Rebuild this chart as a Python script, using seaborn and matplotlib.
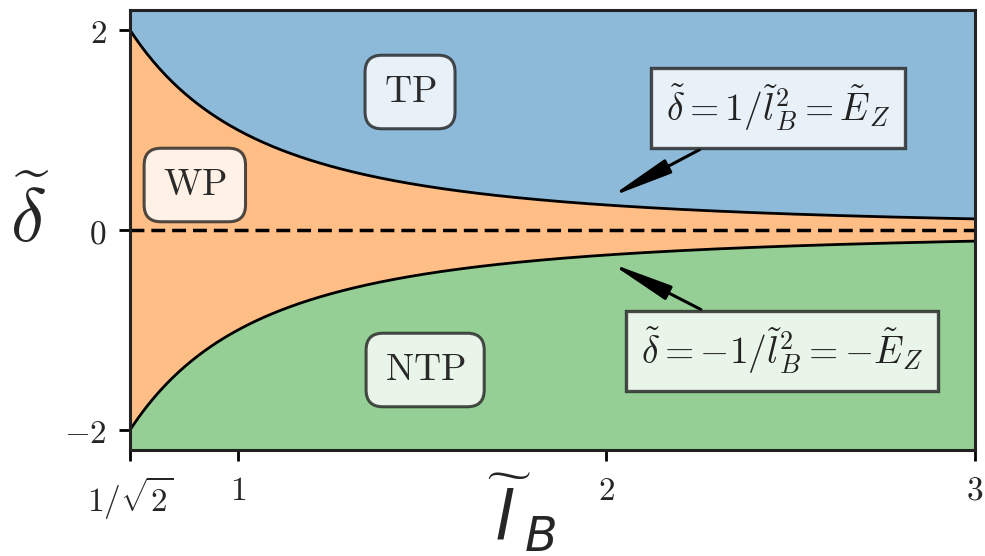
import numpy as np
import pandas as pd
import matplotlib
matplotlib.use("Agg")
import matplotlib.pyplot as plt
import seaborn as sns

# Phase boundaries: delta = +/- 1 / l_B^2 (= +/- E_Z)
l_min, l_max = 1 / np.sqrt(2), 3.0
l_B = np.linspace(l_min, l_max, 400)
delta_upper = 1 / l_B**2
delta_lower = -1 / l_B**2
delta_top, delta_bottom = 2.2, -2.2

x_ticks = [1 / np.sqrt(2), 1, 2, 3]
x_tick_labels = [r"$1/\sqrt{2}$", r"$1$", r"$2$", r"$3$"]
y_ticks = [-2, 0, 2]
y_tick_labels = [r"$-2$", r"$0$", r"$2$"]

region_labels = ["TP", "WP", "NTP"]
region_pos = [(1.467, 1.38), (0.883, 0.45), (1.508, -1.40)]

eq_upper = r"$\tilde{\delta} = 1/\tilde{l}_B^2 = \tilde{E}_Z$"
eq_lower = r"$\tilde{\delta} = -1/\tilde{l}_B^2 = -\tilde{E}_Z$"
eq_upper_pos, eq_lower_pos = (2.466, 1.22), (2.476, -1.21)
boundary_point = 2.01

sns.set_theme(style="white")
plt.rcParams["mathtext.fontset"] = "cm"

df = pd.DataFrame({"l_B": l_B, "upper": delta_upper, "lower": delta_lower})

fig = plt.figure(figsize=(9.85, 5.56), dpi=100)
ax = fig.add_axes([130 / 985, 1 - 450 / 556, 845 / 985, 440 / 556])

blue, orange, green = sns.color_palette("tab10")[:3]
ax.fill_between(df["l_B"], df["upper"], delta_top, color=blue, alpha=0.5, lw=0)
ax.fill_between(df["l_B"], df["lower"], df["upper"], color=orange, alpha=0.5, lw=0)
ax.fill_between(df["l_B"], delta_bottom, df["lower"], color=green, alpha=0.5, lw=0)

sns.lineplot(data=df, x="l_B", y="upper", color="black", lw=2, ax=ax)
sns.lineplot(data=df, x="l_B", y="lower", color="black", lw=2, ax=ax)
ax.axhline(0, color="black", lw=2.5, ls=(0, (4, 2)))

ax.set_xlim(l_min, l_max)
ax.set_ylim(delta_bottom, delta_top)
ax.set_xticks(x_ticks)
ax.set_xticklabels(x_tick_labels)
ax.set_yticks(y_ticks)
ax.set_yticklabels(y_tick_labels)
ax.tick_params(axis="both", which="both", direction="out", length=8, width=2,
               color="black", labelsize=24, bottom=True, left=True, pad=9)
for spine in ax.spines.values():
    spine.set_color("#222222")
    spine.set_linewidth(2.2)
ax.set_xlabel("")
ax.set_ylabel("")

for text, (x, y) in zip(region_labels, region_pos):
    ax.text(x, y, r"$\mathrm{%s}$" % text, ha="center", va="center",
            fontsize=27, color="#2a2a2a",
            bbox=dict(boxstyle="round,pad=0.5,rounding_size=0.45",
                      facecolor="white", alpha=0.8, edgecolor="#222222", lw=2.2))

box = dict(boxstyle="square,pad=0.4", facecolor="white", alpha=0.8,
           edgecolor="#222222", lw=2.4)
for label, pos, sign in [(eq_upper, eq_upper_pos, 1), (eq_lower, eq_lower_pos, -1)]:
    ax.annotate(label, xy=(boundary_point, sign * 0.33), xytext=pos,
                ha="center", va="center", fontsize=27, color="#222222",
                bbox=box,
                arrowprops=dict(arrowstyle="-|>,head_length=1.4,head_width=0.17",
                                color="black", lw=2.2, shrinkA=0, shrinkB=0,
                                mutation_scale=27))

# Axis titles
fig.text(30 / 985, 1 - 220 / 556, r"$\widetilde{\delta}$", fontsize=54,
         ha="center", va="center")
fig.text(483 / 985, 1 / 556, r"$\widetilde{\,l\,}_{B}$", fontsize=49,
         math_fontfamily="dejavusans", ha="left", va="bottom")

fig.savefig("out.png", dpi=100)
